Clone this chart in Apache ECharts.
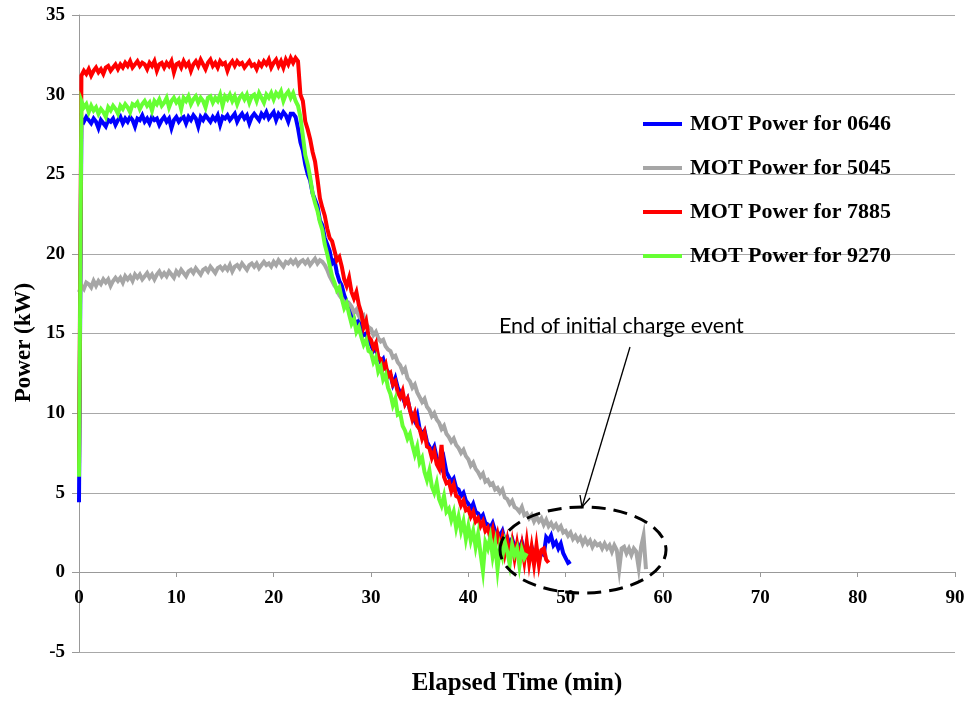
<!DOCTYPE html>
<html>
<head>
<meta charset="utf-8">
<script src="https://cdn.jsdelivr.net/npm/echarts@6/dist/echarts.min.js"></script>
<style>html,body{margin:0;padding:0;background:#fff}#c{width:969px;height:702px}</style>
</head>
<body>
<div id="c"></div>
<script>
// sampling step of the recorded traces (minutes)
const STEP = 0.25;
const X_TICKS = [0,10,20,30,40,50,60,70,80,90];
const Y_TICKS = [-5,0,5,10,15,20,25,30,35];
const NAMES = ['MOT Power for 0646','MOT Power for 5045','MOT Power for 7885','MOT Power for 9270'];

const p0646 = [
 4.4,28.5,28.3,28.6, 28.4,28.2,28.5,28.3, 27.9,28.4,28.2,28.0, 28.4,28.3,28.5,28.1,
 28.4,28.6,28.2,28.5, 28.3,28.6,28.4,28.0, 28.5,28.4,28.7,28.3, 28.5,28.2,28.6,28.4,
 28.5,28.1,28.4,28.6, 28.3,28.5,27.9,28.4, 28.6,28.3,28.5,28.6, 28.2,28.6,28.4,28.7,
 28.5,28.0,28.6,28.4, 28.7,28.5,28.3,28.6, 28.4,28.7,28.1,28.6, 28.5,28.7,28.4,28.6,
 28.8,28.3,28.6,28.8, 28.5,28.7,28.2,28.6, 28.8,28.6,28.4,28.8, 28.6,28.9,28.5,28.7,
 28.9,28.4,28.8,28.6, 28.9,28.7,28.3,28.8, 28.8,28.6,27.9,27.0, 26.5,25.6,25.0,24.6,
 23.8,23.4,23.0,22.1, 21.8,21.0,20.6,20.2, 19.4,19.6,18.8,18.3, 18.0,17.4,17.0,16.8,
 16.4,15.9,15.6,15.8, 15.2,14.9,15.0,14.4, 14.3,13.9,14.1,13.5, 13.2,13.4,12.8,12.6,
 12.4,11.8,12.2,11.6, 11.3,11.0,10.6,10.9, 10.2,9.8,9.5,9.9, 9.0,8.7,8.9,8.2,
 7.9,7.6,7.9,7.2, 7.0,6.6,7.1,6.3, 6.0,5.7,5.9,5.3, 5.2,4.8,5.0,4.5,
 4.3,4.0,4.3,3.8, 3.7,3.4,3.6,3.1, 3.0,2.8,3.1,2.6, 2.5,2.3,2.6,2.0,
 2.2,1.8,2.1,1.6, 1.8,1.5,1.9,1.3, 1.6,1.2,1.6,1.0, 1.4,1.0,1.2,1.1,
 2.2,2.0,2.3,1.7, 1.9,1.5,1.8,1.2, 0.9,0.6,0.7
];
const p5045 = [
 17.6,18.0,17.8,18.2, 18.1,17.9,18.3,18.0, 18.3,18.1,18.4,18.2, 18.4,18.0,18.3,18.5,
 18.3,18.5,18.2,18.6, 18.4,18.6,18.3,18.7, 18.5,18.7,18.4,18.6, 18.8,18.5,18.7,18.4,
 18.7,18.9,18.6,18.8, 18.6,18.9,18.7,18.5, 18.9,18.7,19.0,18.8, 18.6,18.9,19.0,18.8,
 19.1,18.9,18.7,19.0, 19.1,18.9,19.2,19.0, 18.8,19.1,19.2,19.0, 19.2,19.0,19.3,18.9,
 19.2,19.3,19.1,19.4, 19.2,19.0,19.3,19.4, 19.2,19.4,19.1,19.3, 19.5,19.3,19.4,19.2,
 19.5,19.3,19.6,19.4, 19.2,19.5,19.4,19.6, 19.4,19.6,19.3,19.5, 19.6,19.4,19.6,19.3,
 19.5,19.7,19.4,19.6, 19.5,19.3,19.0,18.6, 18.3,18.0,17.8,17.4, 17.2,17.0,16.8,16.9,
 16.7,16.3,16.5,16.1, 15.9,16.1,15.6,15.4, 15.3,14.9,15.1,14.7, 14.5,14.6,14.2,14.0,
 13.9,13.5,13.6,13.2, 13.0,12.6,12.8,12.2, 12.0,11.6,11.8,11.3, 11.0,10.7,10.9,10.4,
 10.2,9.8,10.0,9.6, 9.4,9.0,9.2,8.7, 8.5,8.2,8.4,8.0, 7.8,7.5,7.7,7.3,
 7.1,6.7,6.9,6.5, 6.3,6.0,6.2,5.7, 5.8,5.5,5.6,5.2, 5.3,5.0,5.2,4.7,
 4.6,4.3,4.5,4.1, 4.0,3.8,4.1,3.6, 3.7,3.4,3.6,3.2, 3.5,3.2,3.4,3.0,
 3.3,2.9,3.1,2.8, 3.0,2.7,2.9,2.5, 2.6,2.3,2.5,2.1, 2.3,2.0,2.2,1.8,
 2.1,1.8,2.0,1.6, 1.9,1.7,1.8,1.5, 1.8,1.5,1.7,1.3, 1.7,1.4,0.2,1.5,
 1.6,1.2,1.5,1.1, 1.5,1.3,0.3,1.6, 2.3,0.2
];
const p7885 = [
 6.5,31.2,31.5,31.3, 31.6,31.2,31.5,31.7, 31.4,31.6,31.3,31.7, 31.8,31.5,31.7,31.9,
 31.6,31.9,31.7,32.0, 31.8,32.1,31.7,31.9, 32.1,31.8,32.0,31.9, 31.6,32.0,31.8,32.1,
 31.5,31.9,32.0,31.7, 32.0,31.8,32.1,31.4, 31.9,32.0,31.7,32.1, 31.8,32.0,31.5,31.9,
 32.1,31.8,32.2,31.9, 31.6,32.0,32.2,31.8, 32.0,31.7,32.1,31.9, 32.0,31.5,31.9,32.1,
 31.8,32.1,31.9,32.0, 31.7,31.9,32.1,31.8, 31.9,31.6,32.0,31.8, 32.1,31.9,32.2,31.7,
 32.0,32.2,31.8,32.1, 31.7,32.2,31.9,32.3, 32.0,32.3,32.1,30.0, 29.6,28.3,27.8,27.2,
 26.4,25.8,24.7,23.5, 22.9,22.4,21.6,21.0, 20.8,20.2,19.6,19.8, 19.2,18.4,18.0,18.5,
 17.6,17.2,17.6,16.8, 16.3,15.4,15.8,14.8, 14.6,14.1,14.4,13.5, 13.4,12.8,13.1,12.3,
 12.5,11.8,12.0,11.3, 11.0,11.4,10.6,10.9, 10.2,9.6,10.0,9.2, 9.0,8.4,8.8,7.9,
 7.8,7.2,7.6,6.8, 6.5,8.0,6.0,5.6, 5.7,5.1,5.5,4.8, 4.7,4.2,4.5,3.9,
 4.0,3.5,3.8,3.2, 3.4,2.9,3.2,2.6, 2.8,2.2,2.7,1.8, 2.4,1.6,2.2,1.2,
 2.0,1.0,1.9,0.9, 1.8,0.8,1.7,0.7, 1.9,0.6,1.6,0.5, 1.7,0.5,1.4,1.5,
 0.8,0.6
];
const p9270 = [
 6.0,29.6,29.2,29.4, 28.9,29.3,29.0,29.2, 28.8,29.1,28.9,28.6, 29.2,29.0,29.3,29.1,
 28.8,29.3,29.1,29.4, 29.2,28.9,29.4,29.3, 29.5,29.1,29.4,29.6, 29.3,29.5,29.0,29.6,
 29.4,29.7,29.3,29.5, 29.8,29.2,29.6,29.8, 29.5,29.7,29.1,29.8, 29.6,29.9,29.4,29.7,
 29.9,29.5,29.8,29.6, 29.2,29.8,29.9,29.5, 29.8,29.6,30.0,29.3, 29.9,29.7,30.0,29.6,
 29.9,29.4,29.8,30.0, 29.7,30.0,29.5,29.9, 30.0,29.6,30.1,29.8, 29.5,30.0,29.8,30.1,
 29.7,30.1,29.9,30.2, 29.6,30.0,30.2,29.8, 30.1,29.6,29.3,28.6, 27.4,26.2,25.6,24.8,
 23.8,23.2,22.7,22.0, 21.5,20.6,20.0,19.3, 18.6,18.2,17.7,17.9, 17.2,16.6,16.9,16.2,
 15.6,15.9,15.1,15.4, 14.8,14.3,14.6,13.9, 13.8,13.2,13.5,12.6, 12.9,12.1,12.4,11.6,
 11.2,10.5,10.9,9.9, 10.0,9.2,8.9,8.4, 8.7,8.0,7.4,7.9, 6.9,7.2,6.3,5.8,
 6.4,5.4,5.0,5.6, 4.6,4.2,4.8,3.8, 4.0,3.3,3.8,2.8, 3.5,2.6,3.2,2.1,
 2.9,2.0,2.6,1.6, 2.4,1.2,0.1,1.9, 1.5,2.2,1.0,1.8, 0.2,1.6,1.0,1.9,
 1.3,0.5,1.7,1.1, 1.5,0.4,1.4,0.9, 1.2
];

const COLORS = ['#0000FF','#A6A6A6','#FF0000','#66FF33'];
const SERIES_VALUES = [p0646, p5045, p7885, p9270];
const SERIF = '"Liberation Serif","Times New Roman",serif';

function toPairs(vals){ return vals.map((v,i)=>[i*STEP, v]); }

const chart = echarts.init(document.getElementById('c'), null, {renderer:'canvas'});
chart.setOption({
  animation:false,
  backgroundColor:'#fff',
  grid:{left:79, right:14, top:15, bottom:50, containLabel:false, outerBoundsMode:'none'},
  xAxis:{
    type:'value', min:0, max:90, interval:10, offset:-80,
    axisLine:{show:true, onZero:false, lineStyle:{color:'#999', width:1}},
    axisTick:{show:true, inside:false, length:5, lineStyle:{color:'#999'}},
    splitLine:{show:false},
    axisLabel:{fontFamily:SERIF, fontWeight:'bold', fontSize:19, color:'#000', margin:17,
      formatter:v=> X_TICKS.includes(v)? String(v):''},
    name:'Elapsed Time (min)', nameLocation:'middle', nameGap:99,
    nameTextStyle:{fontFamily:SERIF, fontWeight:'bold', fontSize:25, color:'#000'}
  },
  yAxis:{
    type:'value', min:-5, max:35, interval:5,
    axisLine:{show:true, lineStyle:{color:'#999', width:1}},
    axisTick:{show:true, inside:false, length:7, lineStyle:{color:'#999'}},
    splitLine:{show:true, lineStyle:{color:'#A8A8A8', width:1}},
    axisLabel:{fontFamily:SERIF, fontWeight:'bold', fontSize:19, color:'#000', margin:14,
      formatter:v=> Y_TICKS.includes(v)? String(v):''},
    name:'Power (kW)', nameLocation:'middle', nameGap:43,
    nameTextStyle:{fontFamily:SERIF, fontWeight:'bold', fontSize:23, color:'#000', padding:[0,18,0,0]}
  },
  legend:{
    orient:'vertical', left:643, top:113, itemGap:22, padding:0,
    icon:'rect', itemWidth:39, itemHeight:4,
    textStyle:{fontFamily:SERIF, fontWeight:'bold', fontSize:22, color:'#000', padding:[0,0,0,3]},
    data:NAMES
  },
  series: NAMES.map((n,k)=>({
    name:n, type:'line', data:toPairs(SERIES_VALUES[k]),
    showSymbol:false, symbol:'none', color:COLORS[k],
    lineStyle:{color:COLORS[k], width:4, join:'miter'},
    itemStyle:{color:COLORS[k]},
    z:2+k
  })),
  graphic:[
    {type:'text', left:499, top:315, z:20,
      style:{text:'End of initial charge event', fontFamily:'Lato, "Open Sans", sans-serif', fontSize:21.5, fill:'#000'}},
    {type:'line', z:20, shape:{x1:630, y1:347, x2:582, y2:507}, style:{stroke:'#000', lineWidth:1.3}},
    {type:'polyline', z:20, shape:{points:[[590,498],[582,507],[580,495]]}, style:{stroke:'#000', lineWidth:1.3, fill:null}},
    {type:'ellipse', z:20, shape:{cx:583, cy:550, rx:83, ry:43},
      style:{fill:null, stroke:'#000', lineWidth:3, lineDash:[14,8]}}
  ]
});
</script>
</body>
</html>
